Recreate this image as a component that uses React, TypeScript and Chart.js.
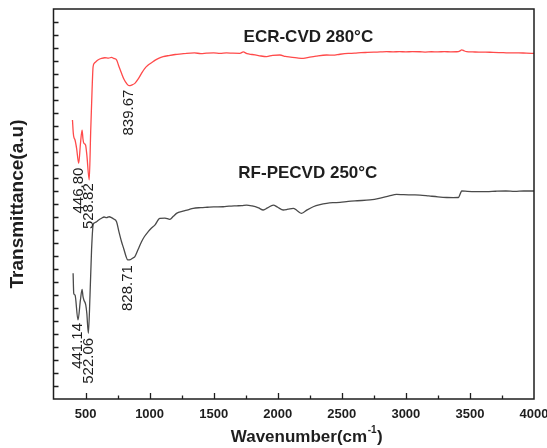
import { useEffect, useRef } from "react";
import { Chart, registerables } from "chart.js";

Chart.register(...registerables);

// ---- data ----
const ecrWavenumber = [
  398, 405, 410, 418, 430, 446.8, 460, 473, 480, 487, 500, 510, 528.82, 540, 551, 559, 570, 581, 600, 625,
  650, 680, 703, 720, 742, 760, 781, 800, 820, 839.67, 860, 885, 910, 937, 960, 989, 1020, 1041, 1070, 1106,
  1150, 1200, 1250, 1289, 1350, 1400, 1445, 1500, 1550, 1600, 1650, 1705, 1731, 1760, 1800, 1850, 1913, 1960,
  2017, 2060, 2100, 2150, 2199, 2250, 2300, 2382, 2430, 2486, 2550, 2600, 2650, 2700, 2750, 2800, 2850, 2900,
  2950, 3000, 3050, 3110, 3150, 3200, 3250, 3300, 3350, 3397, 3420, 3436, 3455, 3475, 3520, 3570, 3620, 3680,
  3761, 3820, 3880, 3940, 4000,
];
const ecrTransmittance = [
  21.46, 20.4, 20.1, 19.92, 19.3, 18.13, 19.6, 20.69, 20.0, 19.67, 19.54, 18.8, 16.85, 20.5, 23.77, 25.56, 25.85,
  25.95, 26.1, 26.2, 26.25, 26.22, 26.28, 26.2, 26.08, 25.6, 25.05, 24.6, 24.28, 24.1, 24.15, 24.28, 24.6, 25.05,
  25.4, 25.69, 25.9, 26.05, 26.2, 26.33, 26.42, 26.5, 26.55, 26.59, 26.62, 26.57, 26.6, 26.62, 26.58, 26.62, 26.6,
  26.59, 26.7, 26.56, 26.5, 26.42, 26.33, 26.44, 26.46, 26.35, 26.3, 26.24, 26.2, 26.3, 26.38, 26.46, 26.45, 26.52,
  26.58, 26.6, 26.64, 26.66, 26.68, 26.7, 26.72, 26.7, 26.72, 26.7, 26.72, 26.71, 26.69, 26.71, 26.7, 26.72, 26.7,
  26.71, 26.76, 26.86, 26.78, 26.72, 26.7, 26.68, 26.69, 26.66, 26.64, 26.62, 26.63, 26.6, 26.59,
];

const rfWavenumber = [
  403, 408, 418, 441.14, 460, 473, 480, 487, 502, 510, 522.06, 535, 547, 559, 570, 586, 600, 625, 645, 664, 685,
  703, 720, 742, 760, 781, 800, 815, 828.71, 850, 870, 885, 910, 937, 960, 989, 1015, 1041, 1080, 1120, 1158, 1185,
  1210, 1260, 1300, 1340, 1400, 1450, 1500, 1574, 1620, 1680, 1720, 1757, 1800, 1850, 1887, 1920, 1965, 2000, 2043,
  2080, 2121, 2150, 2186, 2230, 2277, 2330, 2382, 2430, 2486, 2550, 2620, 2720, 2800, 2870, 2928, 2980, 3050, 3110,
  3180, 3250, 3320, 3370, 3410, 3425, 3436, 3480, 3540, 3631, 3700, 3780, 3850, 3920, 4000,
];
const rfTransmittance = [
  9.67, 8.13, 8.0, 6.08, 7.6, 8.44, 7.9, 7.62, 7.23, 6.6, 5.05, 8.0, 11.46, 13.38, 13.55, 13.64, 13.75, 13.9, 14.0,
  13.95, 14.02, 13.95, 13.85, 13.64, 12.9, 12.1, 11.5, 11.0, 10.7, 10.72, 10.85, 10.95, 11.5, 12.1, 12.5, 12.87,
  13.15, 13.38, 13.9, 13.92, 13.82, 14.05, 14.28, 14.45, 14.55, 14.67, 14.72, 14.75, 14.78, 14.79, 14.83, 14.86,
  14.88, 14.92, 14.85, 14.7, 14.54, 14.7, 14.92, 14.75, 14.54, 14.6, 14.67, 14.5, 14.28, 14.55, 14.79, 14.95, 15.05,
  15.1, 15.12, 15.2, 15.25, 15.31, 15.45, 15.62, 15.74, 15.72, 15.7, 15.69, 15.62, 15.55, 15.5, 15.49, 15.5, 15.8,
  16.0, 15.97, 15.95, 15.95, 15.98, 16.0, 15.97, 16.0, 16.0,
];

const xTickValues = [500, 1000, 1500, 2000, 2500, 3000, 3500, 4000];

const peakText = ["839.67", "446.80", "528.82", "828.71", "441.14", "522.06"];
const peakWavenumber = [839.67, 446.8, 528.82, 828.71, 441.14, 522.06];
const peakLabelTop = [23.8, 17.8, 16.6, 10.3, 5.85, 4.7];

const seriesText = ["ECR-CVD 280°C", "RF-PECVD 250°C"];
const seriesLabelWavenumber = [2239, 2235];
const seriesLabelLevel = [27.8, 17.35];

const FONT = "'Liberation Sans', Arial, Helvetica, sans-serif";
const INK = "#1e1e1e";

const decorPlugin = {
  id: "decor",
  afterDraw(chart: any) {
    const { ctx, chartArea: a, scales } = chart;
    const x = scales.x;
    const y = scales.y;
    ctx.save();
    ctx.strokeStyle = INK;
    ctx.lineWidth = 1.5;
    ctx.strokeRect(a.left, a.top, a.right - a.left, a.bottom - a.top);
    ctx.lineWidth = 1.3;
    ctx.beginPath();
    for (let v = 500; v < 4000; v += 250) {
      const px = Math.round(x.getPixelForValue(v)) + 0.5;
      const len = v % 500 === 0 ? 6 : 3.5;
      ctx.moveTo(px, a.bottom);
      ctx.lineTo(px, a.bottom - len);
    }
    for (let v = 1; v <= 29; v++) {
      const py = Math.round(y.getPixelForValue(v)) + 0.5;
      ctx.moveTo(a.left, py);
      ctx.lineTo(a.left + 5, py);
    }
    ctx.stroke();

    // peak labels (rotated)
    ctx.fillStyle = INK;
    ctx.font = `15px ${FONT}`;
    ctx.textAlign = "right";
    ctx.textBaseline = "middle";
    peakText.forEach((t, i) => {
      const px = x.getPixelForValue(peakWavenumber[i]);
      const py = y.getPixelForValue(peakLabelTop[i]);
      ctx.save();
      ctx.translate(px, py);
      ctx.rotate(-Math.PI / 2);
      ctx.fillText(t, 0, 0);
      ctx.restore();
    });

    // series labels
    ctx.font = `bold 17px ${FONT}`;
    ctx.textAlign = "center";
    seriesText.forEach((t, i) => {
      ctx.fillText(t, x.getPixelForValue(seriesLabelWavenumber[i]), y.getPixelForValue(seriesLabelLevel[i]));
    });

    // x-axis title with superscript
    const main = "Wavenumber(cm";
    const sup = "-1";
    const close = ")";
    ctx.font = `bold 17px ${FONT}`;
    const w1 = ctx.measureText(main).width;
    const w3 = ctx.measureText(close).width;
    ctx.font = `bold 10px ${FONT}`;
    const w2 = ctx.measureText(sup).width;
    const total = w1 + w2 + w3 + 1;
    const cx = (a.left + a.right) / 2 + 13;
    const cy = 437;
    let sx = cx - total / 2;
    ctx.textAlign = "left";
    ctx.font = `bold 17px ${FONT}`;
    ctx.fillText(main, sx, cy);
    sx += w1 + 0.5;
    ctx.font = `bold 10px ${FONT}`;
    ctx.fillText(sup, sx, cy - 7);
    sx += w2 + 0.5;
    ctx.font = `bold 17px ${FONT}`;
    ctx.fillText(close, sx, cy);
    ctx.restore();
  },
};

export default function App() {
  const ref = useRef<HTMLCanvasElement | null>(null);
  useEffect(() => {
    if (!ref.current) return;
    const chart = new Chart(ref.current, {
      type: "line",
      data: {
        datasets: [
          {
            label: seriesText[0],
            data: ecrWavenumber.map((w, i) => ({ x: w, y: ecrTransmittance[i] })),
            borderColor: "#ff4a4a",
            borderWidth: 1.3,
            pointRadius: 0,
            cubicInterpolationMode: "monotone",
            fill: false,
          },
          {
            label: seriesText[1],
            data: rfWavenumber.map((w, i) => ({ x: w, y: rfTransmittance[i] })),
            borderColor: "#4a4a4a",
            borderWidth: 1.3,
            pointRadius: 0,
            cubicInterpolationMode: "monotone",
            fill: false,
          },
        ],
      },
      options: {
        animation: false,
        responsive: false,
        layout: { padding: { left: 6, right: 13, top: 9, bottom: 9 } },
        plugins: { legend: { display: false }, tooltip: { enabled: false } },
        scales: {
          x: {
            type: "linear",
            min: 250,
            max: 4000,
            grid: { display: false, drawTicks: false },
            border: { display: false },
            afterBuildTicks: (s: any) => {
              s.ticks = xTickValues.map((v) => ({ value: v }));
            },
            afterFit: (s: any) => {
              s.height = 40;
              s.paddingLeft = 0;
              s.paddingRight = 0;
            },
            ticks: {
              autoSkip: false,
              maxRotation: 0,
              padding: 8,
              color: INK,
              font: { family: FONT, size: 13, weight: "bold" },
              callback: (v: any) => String(v),
            },
          },
          y: {
            type: "linear",
            min: 0,
            max: 30,
            grid: { display: false, drawTicks: false },
            border: { display: false },
            ticks: { display: false },
            afterFit: (s: any) => {
              s.width = 47.5;
            },
            title: {
              display: true,
              text: "Transmittance(a.u)",
              color: INK,
              padding: 0,
              font: { family: FONT, size: 19, weight: "bold" },
            },
          },
        },
      },
      plugins: [decorPlugin],
    } as any);
    return () => chart.destroy();
  }, []);
  return (
    <div style={{ position: "fixed", left: 0, top: 0, width: 547, height: 448, background: "#fff" }}>
      <canvas ref={ref} width={547} height={448} style={{ width: 547, height: 448 }} />
    </div>
  );
}
